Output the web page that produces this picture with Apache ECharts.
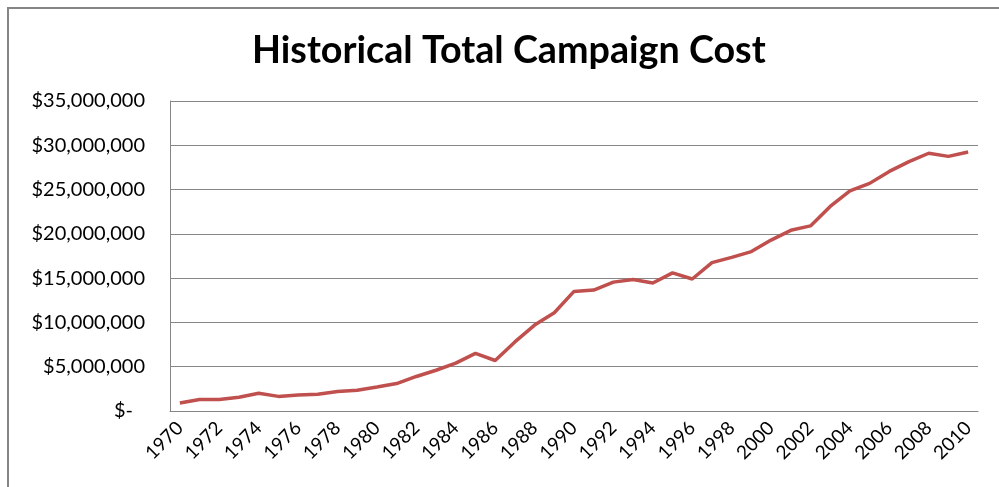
<!DOCTYPE html>
<html>
<head>
<meta charset="utf-8">
<script src="https://cdn.jsdelivr.net/npm/echarts@6/dist/echarts.min.js"></script>
<style>
html,body{margin:0;padding:0;background:#fff;}
#chart{width:999px;height:487px;}
</style>
</head>
<body>
<div id="chart"></div>
<script>
const years = ['1970','1971','1972','1973','1974','1975','1976','1977','1978','1979','1980','1981','1982','1983','1984','1985','1986','1987','1988','1989','1990','1991','1992','1993','1994','1995','1996','1997','1998','1999','2000','2001','2002','2003','2004','2005','2006','2007','2008','2009','2010'];
const totalCost = [900000,1300000,1300000,1550000,2000000,1650000,1800000,1900000,2200000,2350000,2700000,3100000,3900000,4600000,5400000,6500000,5700000,7800000,9700000,11100000,13500000,13650000,14550000,14850000,14450000,15600000,14900000,16750000,17350000,18000000,19300000,20400000,20900000,23100000,24850000,25700000,27050000,28150000,29100000,28750000,29250000];
const chartTitle = 'Historical Total Campaign Cost';

const chart = echarts.init(document.getElementById('chart'));
chart.setOption({
  animation: false,
  title: {
    text: chartTitle,
    left: 247,
    top: 27,
    textStyle: {fontFamily: 'Lato', fontWeight: 'bold', fontSize: 37.7, color: '#000'}
  },
  graphic: [{
    type: 'polyline',
    shape: {points: [[8, 500], [8, 8], [1010, 8]]},
    style: {stroke: '#868686', lineWidth: 2, fill: null}
  }],
  grid: {left: 170, right: 21, top: 101, bottom: 76},
  xAxis: {
    type: 'category',
    data: years,
    boundaryGap: true,
    axisLine: {lineStyle: {color: '#868686', width: 1}},
    axisTick: {show: false},
    axisLabel: {
      interval: 1,
      rotate: 45,
      fontFamily: 'Lato',
      fontSize: 19,
      color: '#000',
      margin: 14
    }
  },
  yAxis: {
    type: 'value',
    min: 0,
    max: 35000000,
    interval: 5000000,
    axisLine: {show: true, lineStyle: {color: '#868686', width: 1}},
    axisTick: {show: false},
    splitLine: {lineStyle: {color: '#868686', width: 1}},
    axisLabel: {
      fontFamily: 'Lato',
      fontSize: 20,
      color: '#000',
      margin: 25,
      formatter: function (v) {
        if (v === 0) return '{z|$-}';
        return '$' + v.toLocaleString('en-US');
      },
      rich: {z: {fontFamily: 'Lato', fontSize: 20, color: '#000', padding: [0, 12, 0, 0]}}
    }
  },
  series: [{
    type: 'line',
    data: totalCost,
    symbol: 'none',
    lineStyle: {color: '#C0504D', width: 3.5},
    itemStyle: {color: '#C0504D'}
  }]
});
</script>
</body>
</html>
